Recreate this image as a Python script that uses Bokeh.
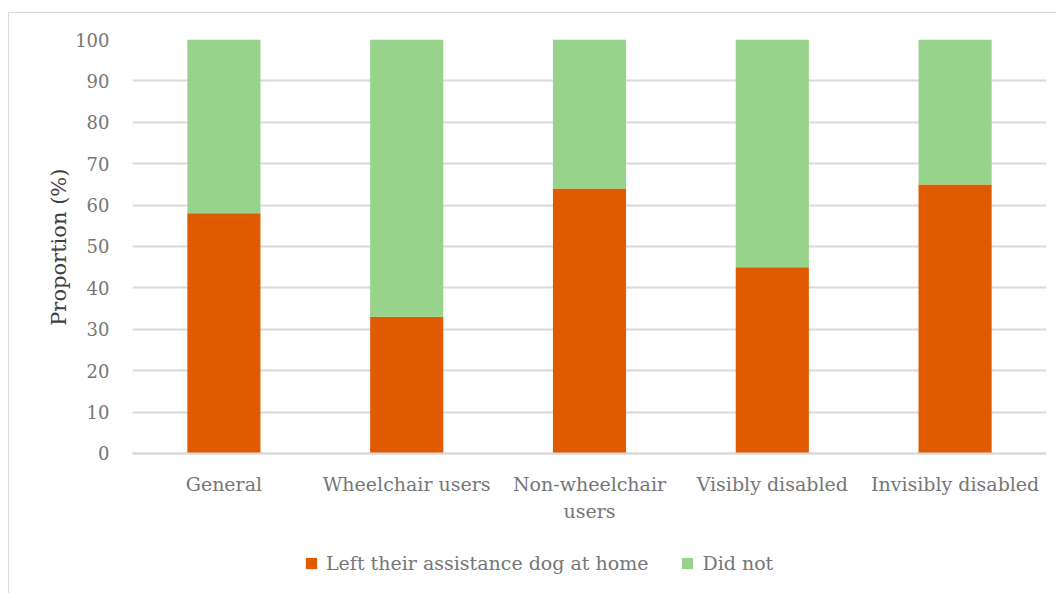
from bokeh.plotting import figure
from bokeh.models import (ColumnDataSource, Legend, LegendItem, FactorRange, FixedTicker,
                          Range1d, Title)
from bokeh.embed import file_html
from bokeh.resources import INLINE

categories = ["General", "Wheelchair users", "Non-wheelchair\nusers", "Visibly disabled", "Invisibly disabled"]
left_home = [58, 33, 64, 45, 65]
did_not = [42, 67, 36, 55, 35]
series_names = ["Left their assistance dog at home", "Did not"]
y_ticks = [0, 10, 20, 30, 40, 50, 60, 70, 80, 90, 100]
y_label = "Proportion (%)"
colors = ["#E05A00", "#97D38A"]

FONT = "DejaVu Serif"
TXT = "#767676"

source = ColumnDataSource(dict(cat=categories, left=left_home, didnot=did_not))

# frame extends below the zero line so the legend sits inside the canvas area
p = figure(x_range=FactorRange(*categories, range_padding=0), y_range=Range1d(-31.9, 100),
           frame_width=914, frame_height=546, output_backend="svg", toolbar_location=None,
           min_border_left=123, min_border_right=10, min_border_top=26, min_border_bottom=8)
p.styles = {"border-left": "1px solid #d9d9d9", "border-top": "1px solid #d9d9d9",
            "margin-top": "12px", "margin-left": "8px"}

rs = p.vbar_stack(["left", "didnot"], x="cat", width=0.4, color=colors, source=source, line_color=None)

p.outline_line_color = None
p.background_fill_color = "white"

p.yaxis.ticker = FixedTicker(ticks=y_ticks)
p.yaxis.bounds = (0, 100)
p.yaxis.axis_line_color = None
p.yaxis.major_tick_line_color = None
p.yaxis.minor_tick_line_color = None
p.yaxis.major_label_text_font = FONT
p.yaxis.major_label_text_font_size = "18px"
p.yaxis.major_label_text_color = TXT
p.yaxis.major_label_standoff = 17

p.add_layout(Title(text=y_label, align="right", offset=129, standoff=4,
                   text_font=FONT, text_font_size="21px", text_font_style="normal",
                   text_color="#404040", vertical_align="bottom"), "left")

p.xaxis.fixed_location = 0
p.xaxis.axis_line_color = "#d9d9d9"
p.xaxis.axis_line_width = 2
p.xaxis.major_tick_line_color = None
p.xaxis.minor_tick_line_color = None
p.xaxis.major_label_text_font = FONT
p.xaxis.major_label_text_font_size = "19px"
p.xaxis.major_label_text_color = TXT
p.xaxis.major_label_standoff = 14

p.xgrid.grid_line_color = None
p.ygrid.ticker = FixedTicker(ticks=y_ticks)
p.ygrid.grid_line_color = "#d9d9d9"
p.ygrid.grid_line_width = 2

legend = Legend(items=[LegendItem(label=series_names[i], renderers=[rs[i]]) for i in range(2)],
                orientation="horizontal", location=(172, 11), padding=0, margin=0,
                label_text_font=FONT, label_text_font_size="19px", label_text_color=TXT,
                glyph_width=14, glyph_height=14, label_standoff=8, spacing=32,
                border_line_color=None, background_fill_alpha=0)
p.add_layout(legend, "center")

open("out.html", "w").write(file_html(p, INLINE))
